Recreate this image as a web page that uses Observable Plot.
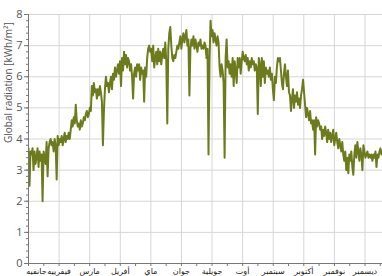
<!DOCTYPE html>
<html>
<head>
<meta charset="utf-8">
<script src="https://cdn.jsdelivr.net/npm/d3@7"></script>
<script src="https://cdn.jsdelivr.net/npm/@observablehq/plot@0.6"></script>
<style>
  html, body { margin: 0; padding: 0; background: #fff; overflow: hidden; }
  svg { display: block; }
</style>
</head>
<body>
<div id="chart"></div>
<script>
// Month names (Maghreb Arabic)
const months = ["جانفيه", "فيفرييه", "مارس", "أفريل", "ماي", "جوان", "جويلية", "أوت", "سبتمبر", "أكتوبر", "نوفمبر", "ديسمبر"];

// Y tick labels
const yTicks = [0, 1, 2, 3, 4, 5, 6, 7, 8];

// Daily global radiation [kWh/m²]
const radiation = [
  3.7, 2.5, 3.6, 3.5, 3.7, 3.0, 3.6, 3.2, 3.4, 3.7,
  3.1, 3.6, 3.3, 3.5, 2.0, 3.6, 3.4, 3.2, 3.9, 2.8,
  3.7, 3.9, 4.0, 3.8, 3.9, 3.6, 4.0, 3.8, 2.7, 4.1,
  3.8, 4.0, 3.9, 4.1, 3.8, 4.0, 4.2, 3.9, 4.1, 4.0,
  4.2, 4.0, 4.3, 4.6, 4.4, 4.7, 4.5, 5.1, 4.6, 4.4,
  4.5, 4.3, 4.6, 4.4, 4.5, 4.7, 4.6, 4.8, 4.9, 4.7,
  4.8, 5.0, 4.9, 5.7, 5.4, 5.8, 5.5, 5.6, 5.3, 5.6,
  5.4, 5.7, 5.5, 5.2, 3.8, 4.9, 5.6, 6.0, 5.7, 5.8,
  5.5, 5.8, 6.0, 5.6, 6.1, 5.9, 6.3, 6.0, 6.2, 6.4,
  6.1, 6.5, 5.7, 6.6, 6.2, 6.8, 6.4, 6.7, 6.3, 6.6,
  6.5, 6.2, 6.4, 6.0, 5.3, 6.1, 6.3, 6.0, 6.4, 6.2,
  6.4, 5.9, 6.3, 6.1, 6.2, 5.2, 6.3, 6.0, 6.6, 6.9,
  7.0, 6.8, 6.9, 6.5, 7.0, 6.3, 6.6, 6.8, 6.4, 6.9,
  6.5, 6.8, 6.4, 6.7, 6.9, 6.6, 7.1, 6.5, 4.5, 6.9,
  7.4, 7.6, 7.0, 6.6, 6.5, 6.7, 6.6, 6.8, 7.0, 6.9,
  7.1, 7.3, 6.9, 7.2, 7.4, 7.1, 7.3, 7.5, 7.0, 7.2,
  5.4, 6.9, 7.2, 7.0, 7.3, 6.9, 7.2, 7.0, 6.8, 7.1,
  7.0, 7.2, 6.9, 7.0, 6.9, 7.1, 7.0, 6.6, 6.9, 3.5,
  6.5, 7.8, 7.3, 7.5, 7.1, 7.4, 7.2, 7.0, 7.3, 7.1,
  6.3, 6.0, 6.4, 6.2, 5.8, 3.4, 6.6, 7.2, 6.3, 6.5,
  6.1, 6.4, 6.0, 6.6, 5.7, 6.5, 6.2, 5.8, 6.6, 6.3,
  6.6, 6.1, 6.5, 6.8, 6.6, 6.5, 6.7, 6.4, 6.6, 6.2,
  6.5, 6.3, 6.6, 6.4, 6.5, 6.2, 6.4, 6.3, 4.8, 6.6,
  6.4, 5.7, 6.6, 6.0, 6.5, 5.8, 6.3, 6.1, 6.2, 6.0,
  6.3, 5.9, 6.1, 5.6, 5.25, 6.0, 5.8, 6.3, 6.6, 6.5,
  6.6, 6.2, 5.8, 5.6, 6.1, 6.4, 6.0, 5.7, 6.2, 5.5,
  5.4, 4.9, 5.3, 5.6, 5.0, 5.4, 5.2, 5.5, 5.1, 5.3,
  5.0, 5.4, 5.6, 5.9, 5.5, 5.1, 4.7, 5.0, 4.8, 4.6,
  4.9, 4.5, 4.6, 4.3, 4.6, 3.5, 4.7, 4.4, 4.6, 4.5,
  4.3, 4.4, 4.0, 4.3, 4.1, 4.4, 4.2, 3.9, 4.3, 4.0,
  4.2, 3.9, 4.1, 4.3, 3.8, 4.0, 4.2, 3.9, 3.7, 4.0,
  3.8, 3.6, 3.9, 3.5, 3.3, 3.6, 3.0, 3.4, 2.9, 3.5,
  3.3, 3.6, 3.1, 2.85, 3.5, 3.8, 3.4, 3.9, 3.6, 3.3,
  3.7, 3.5, 3.0, 3.8, 3.6, 3.4, 3.5, 3.6, 3.4, 3.5,
  3.4, 3.5, 3.3, 3.5, 3.4, 3.6, 3.1, 3.5, 3.4, 3.6,
  3.7, 3.5, 3.6, 3.4
];

const data = radiation.map((v, i) => ({day: i, v}));
const monthLen = 365 / 12;
const monthStarts = months.map((m, i) => i * monthLen);
const halfMonths = d3.range(0, 24).map(i => i * monthLen / 2);
const minorY = d3.range(0, 41).map(i => i / 5);

const font = "'Open Sans', 'DejaVu Sans', sans-serif";
const labelOpts = {tickSize: 0, tickPadding: 5, fontSize: 8, fill: "#222", label: null};

const chart = Plot.plot({
  width: 382,
  height: 276,
  marginLeft: 28,
  marginRight: 0,
  marginTop: 14,
  marginBottom: 13,
  style: {fontFamily: font, background: "#fff"},
  x: {domain: [0, 352]},
  y: {domain: [0, 8]},
  marks: [
    Plot.gridY(yTicks.slice(1), {stroke: "#d6d6d6", strokeOpacity: 1}),
    Plot.gridX(monthStarts.slice(1), {stroke: "#d6d6d6", strokeOpacity: 1}),
    Plot.line(data, {x: "day", y: "v", stroke: "#6e7b1d", strokeWidth: 2, clip: true}),
    Plot.axisY(minorY, {tickSize: 2, text: null, stroke: "#777", label: null}),
    Plot.axisY(yTicks, {tickSize: 4, tickPadding: 2, fontSize: 11, fill: "#555", stroke: "#777", label: null}),
    Plot.ruleX([0], {stroke: "#777"}),
    Plot.ruleY([0], {stroke: "#777"}),
    Plot.axisX(halfMonths, {tickSize: 3, text: null, stroke: "#777", label: null}),
    Plot.axisX(monthStarts.slice(0, 1), {...labelOpts, dx: 8, tickFormat: () => months[0]}),
    Plot.axisX(monthStarts.slice(1), {...labelOpts, tickFormat: (d, i) => months[i + 1]}),
    Plot.text(["Global radiation [kWh/m²]"], {frameAnchor: "left", dx: -20, dy: 4, rotate: -90,
      fontSize: 10, fill: "#555"})
  ]
});
document.getElementById("chart").appendChild(chart);
</script>
</body>
</html>
